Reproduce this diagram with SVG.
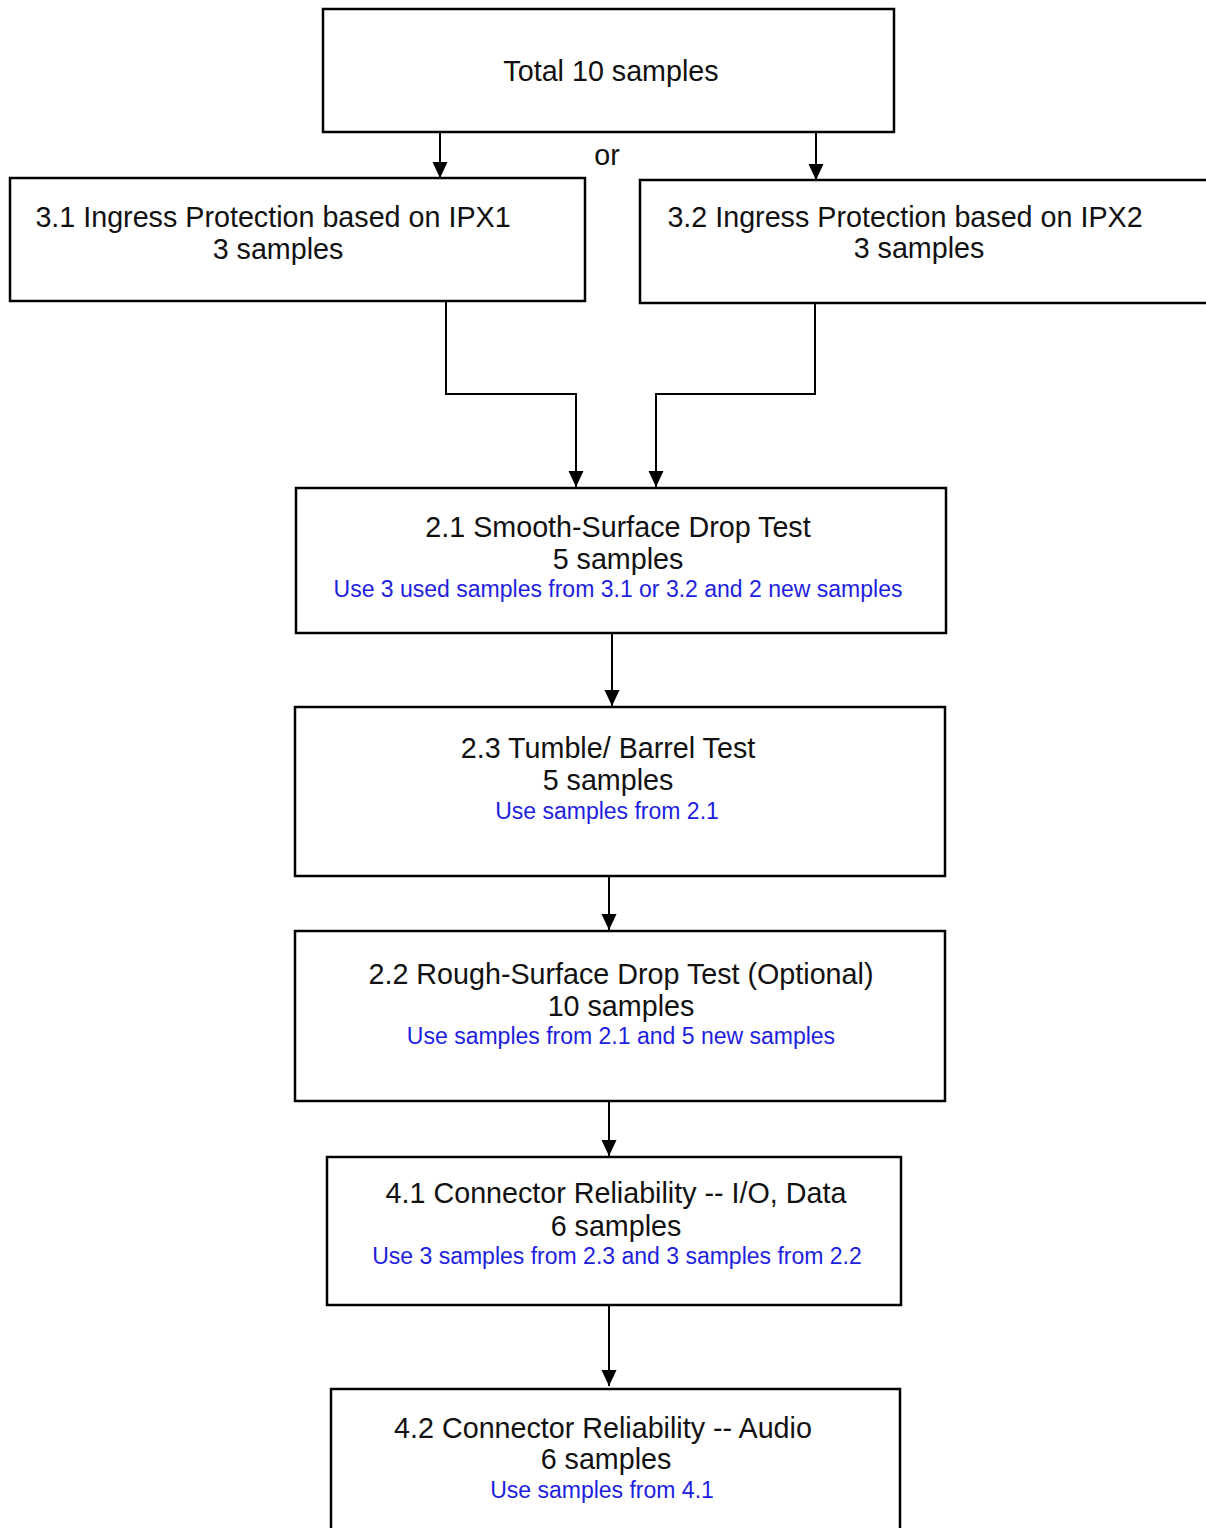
<svg xmlns="http://www.w3.org/2000/svg" width="1206" height="1528" viewBox="0 0 1206 1528">
<defs>
<marker id="arr" markerUnits="userSpaceOnUse" markerWidth="16" markerHeight="17" viewBox="0 0 17 16" refX="17" refY="8" orient="auto">
<path d="M0,0 L17,8 L0,16 z" fill="#000"/>
</marker>
<style>
.box{fill:#fff;stroke:#000;stroke-width:2.5}
.t{font-family:"Liberation Sans",Arial,sans-serif;font-size:28.7px;fill:#111;text-anchor:middle}
.b{font-family:"Liberation Sans",Arial,sans-serif;font-size:23px;fill:#1e1ee0;text-anchor:middle}
.c{fill:none;stroke:#000;stroke-width:2}
</style>
</defs>
<rect width="1206" height="1528" fill="#fff"/>
<g id="connectors">
<line class="c" x1="440" y1="132" x2="440" y2="178" marker-end="url(#arr)"/>
<line class="c" x1="816" y1="132" x2="816" y2="180" marker-end="url(#arr)"/>
<polyline class="c" points="446,301 446,394 576,394 576,487" marker-end="url(#arr)"/>
<polyline class="c" points="815,301 815,394 656,394 656,487" marker-end="url(#arr)"/>
<line class="c" x1="612" y1="633" x2="612" y2="706" marker-end="url(#arr)"/>
<line class="c" x1="609" y1="876" x2="609" y2="930" marker-end="url(#arr)"/>
<line class="c" x1="609" y1="1101" x2="609" y2="1156" marker-end="url(#arr)"/>
<line class="c" x1="609" y1="1305" x2="609" y2="1386" marker-end="url(#arr)"/>
<text class="t" x="607" y="165">or</text>
</g>
<g id="n_total">
<rect class="box" x="323" y="9" width="571" height="123"/>
<text class="t" x="611" y="81">Total 10 samples</text>
</g>
<g id="n_31">
<rect class="box" x="10" y="178" width="575" height="123"/>
<text class="t" x="273" y="227">3.1 Ingress Protection based on IPX1</text>
<text class="t" x="278" y="259">3 samples</text>
</g>
<g id="n_32">
<rect class="box" x="640" y="180" width="580" height="123"/>
<text class="t" x="905" y="227">3.2 Ingress Protection based on IPX2</text>
<text class="t" x="919" y="258">3 samples</text>
</g>
<g id="n_21">
<rect class="box" x="296" y="488" width="650" height="145"/>
<text class="t" x="618" y="537">2.1 Smooth-Surface Drop Test</text>
<text class="t" x="618" y="569">5 samples</text>
<text class="b" x="618" y="597">Use 3 used samples from 3.1 or 3.2 and 2 new samples</text>
</g>
<g id="n_23">
<rect class="box" x="295" y="707" width="650" height="169"/>
<text class="t" x="608" y="758">2.3 Tumble/ Barrel Test</text>
<text class="t" x="608" y="790">5 samples</text>
<text class="b" x="607" y="819">Use samples from 2.1</text>
</g>
<g id="n_22">
<rect class="box" x="295" y="931" width="650" height="170"/>
<text class="t" x="621" y="984">2.2 Rough-Surface Drop Test (Optional)</text>
<text class="t" x="621" y="1016">10 samples</text>
<text class="b" x="621" y="1044">Use samples from 2.1 and 5 new samples</text>
</g>
<g id="n_41">
<rect class="box" x="327" y="1157" width="574" height="148"/>
<text class="t" x="616" y="1203">4.1 Connector Reliability -- I/O, Data</text>
<text class="t" x="616" y="1236">6 samples</text>
<text class="b" x="617" y="1264">Use 3 samples from 2.3 and 3 samples from 2.2</text>
</g>
<g id="n_42">
<rect class="box" x="331" y="1389" width="569" height="150"/>
<text class="t" x="603" y="1438">4.2 Connector Reliability -- Audio</text>
<text class="t" x="606" y="1469">6 samples</text>
<text class="b" x="602" y="1498">Use samples from 4.1</text>
</g>
</svg>
